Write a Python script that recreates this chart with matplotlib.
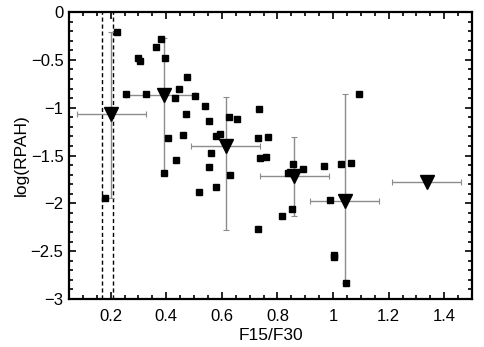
import numpy as np
import matplotlib
matplotlib.use("Agg")
import matplotlib.pyplot as plt
from matplotlib.ticker import MultipleLocator

plt.rcParams['font.family'] = ['Liberation Sans', 'DejaVu Sans']

# individual sources
f15_f30 = [0.224, 0.380, 0.364, 0.394, 0.297, 0.304, 0.473, 0.445, 0.256, 0.326,
           0.430, 0.502, 0.538, 0.472, 0.554, 0.624, 0.653, 0.735, 0.406, 0.459,
           0.580, 0.593, 0.730, 0.766, 0.560, 0.737, 0.759, 0.436, 0.554, 0.390,
           0.629, 0.518, 0.578, 0.178, 0.729, 1.093, 0.855, 0.892, 0.969, 1.028,
           1.063, 0.838, 0.989, 0.817, 0.853, 1.003, 1.003, 1.048]
log_rpah = [-0.21, -0.28, -0.37, -0.48, -0.48, -0.51, -0.68, -0.81, -0.86, -0.86,
            -0.90, -0.88, -0.98, -1.07, -1.14, -1.10, -1.12, -1.01, -1.32, -1.29,
            -1.30, -1.28, -1.32, -1.31, -1.47, -1.53, -1.52, -1.55, -1.62, -1.68,
            -1.70, -1.88, -1.83, -1.94, -2.27, -0.86, -1.59, -1.64, -1.61, -1.59,
            -1.58, -1.68, -1.96, -2.13, -2.06, -2.54, -2.56, -2.83]

# binned means with min/max ranges
bin_x = [0.202, 0.390, 0.614, 0.859, 1.043, 1.338]
bin_y = [-1.07, -0.87, -1.40, -1.71, -1.98, -1.78]
bin_xlo = [0.077, 0.256, 0.490, 0.736, 0.917, 1.213]
bin_xhi = [0.326, 0.502, 0.737, 0.985, 1.164, 1.462]
bin_ylo = [-1.94, -1.68, -2.28, -2.13, -2.83]
bin_yhi = [-0.21, -0.275, -0.885, -1.31, -0.86]

dash_x = [0.170, 0.208]

fig = plt.figure(figsize=(4.85, 3.47), dpi=100)
ax = fig.add_axes([0.1423, 0.1383, 0.8309, 0.8271])

bx = np.array(bin_x)
by = np.array(bin_y)
xerr = [bx - np.array(bin_xlo), np.array(bin_xhi) - bx]
ax.errorbar(bx, by, xerr=xerr, fmt='none', ecolor='#8c8c8c', elinewidth=1,
            capsize=2.5, capthick=0.8, zorder=2)
n = len(bin_ylo)
yerr = [by[:n] - np.array(bin_ylo), np.array(bin_yhi) - by[:n]]
ax.errorbar(bx[:n], by[:n], yerr=yerr, fmt='none', ecolor='#8c8c8c', elinewidth=1,
            capsize=2.5, capthick=0.8, zorder=2)

for xv in dash_x:
    ax.axvline(xv, color='black', linestyle=(0, (3, 2)), linewidth=1, zorder=1)

ax.plot(f15_f30, log_rpah, 's', color='black', markersize=5, zorder=3)
ax.plot(bin_x, bin_y, 'v', color='black', markersize=10.5, zorder=4)

ax.set_xlim(0.05, 1.5)
ax.set_ylim(-3, 0)
ax.xaxis.set_major_locator(MultipleLocator(0.2))
ax.xaxis.set_minor_locator(MultipleLocator(0.05))
ax.yaxis.set_major_locator(MultipleLocator(0.5))
ax.yaxis.set_minor_locator(MultipleLocator(0.1))
ax.set_xticks([0.2, 0.4, 0.6, 0.8, 1.0, 1.2, 1.4])
ax.set_xticklabels(['0.2', '0.4', '0.6', '0.8', '1', '1.2', '1.4'])
ax.set_yticks([0, -0.5, -1, -1.5, -2, -2.5, -3])
ax.set_yticklabels(['0', '\u22120.5', '\u22121', '\u22121.5', '\u22122', '\u22122.5', '\u22123'])
ax.tick_params(which='both', direction='in', top=True, right=True, width=1.2,
               labelsize=12)
ax.tick_params(which='major', length=5)
ax.tick_params(which='minor', length=3)
ax.tick_params(axis='x', pad=7)
ax.tick_params(axis='y', pad=4)
for s in ax.spines.values():
    s.set_linewidth(1.6)

ax.set_xlabel('F15/F30', fontsize=12.5, labelpad=3)
ax.set_ylabel('log(RPAH)', fontsize=12.5, labelpad=1)

fig.savefig('out.png', dpi=100)
